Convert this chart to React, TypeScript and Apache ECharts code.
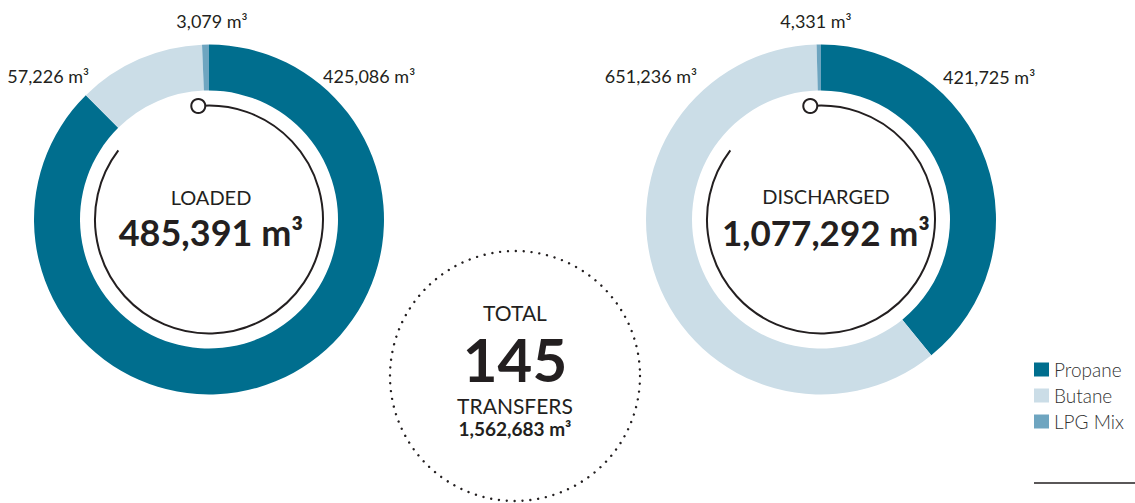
import React, { useEffect, useRef } from "react";
import * as echarts from "echarts";

// ---- data ----
const categories = ["Propane", "Butane", "LPG Mix"];
const loadedVolumes = [425086, 57226, 3079];
const dischargedVolumes = [421725, 651236, 4331];
const totalTransfers = 145;
const unit = "m³";

// ---- styles / layout ----
const COLORS = ["#006e8e", "#cbdde7", "#6ea5c0"];
const INK = "#231f20";
const FONT = 'Lato, "Noto Sans", sans-serif';
const LEFT_C = [209, 219.5];
const RIGHT_C = [821, 219.5];
const RING = [129, 175];

const fmt = (v: number) => v.toLocaleString("en-US");
const sum = (a: number[]) => a.reduce((s, v) => s + v, 0);

function txt(text: string, x: number, y: number, size: number, weight: any, align: string, color = INK): any {
  return {
    type: "text",
    z: 50,
    style: {
      text,
      x,
      y,
      fill: color,
      fontSize: size,
      fontWeight: weight,
      fontFamily: FONT,
      align,
      verticalAlign: "middle",
      textAlign: align,
      textVerticalAlign: "middle",
    },
  };
}

function decoArc(c: number[]): any[] {
  const r = 114;
  const a0 = -95.4 * Math.PI / 180;
  const a1 = 217.3 * Math.PI / 180;
  return [
    {
      type: "arc",
      z: 40,
      shape: { cx: c[0], cy: c[1], r, startAngle: a0, endAngle: a1, clockwise: true },
      style: { stroke: INK, lineWidth: 2, fill: "none" },
    },
    {
      type: "circle",
      z: 45,
      shape: { cx: c[0] + r * Math.cos(a0), cy: c[1] + r * Math.sin(a0), r: 7 },
      style: { fill: "#ffffff", stroke: INK, lineWidth: 2 },
    },
  ];
}

export default function App() {
  const ref = useRef<HTMLDivElement>(null);
  useEffect(() => {
    if (!ref.current) return;
    const chart = echarts.init(ref.current, null, { renderer: "svg" });
    const loadedTotal = sum(loadedVolumes);
    const dischargedTotal = sum(dischargedVolumes);
    const grandTotal = loadedTotal + dischargedTotal;

    const pie = (name: string, center: number[], values: number[]) => ({
      type: "pie",
      name,
      center,
      radius: RING,
      startAngle: 90,
      clockwise: true,
      silent: true,
      label: { show: false },
      labelLine: { show: false },
      emphasis: { disabled: true },
      itemStyle: { borderWidth: 0 },
      data: categories.map((c, i) => ({ name: c, value: values[i], itemStyle: { color: COLORS[i] } })),
    });

    chart.setOption({
      animation: false,
      color: COLORS,
      legend: {
        data: categories,
        orient: "vertical",
        left: 1034,
        top: 360,
        padding: 0,
        icon: "rect",
        itemWidth: 15,
        itemHeight: 14,
        itemGap: 7,
        selectedMode: false,
        textStyle: { fontFamily: FONT, fontSize: 19, fontWeight: 300, color: "#333333" },
      },
      series: [pie("Loaded", LEFT_C, loadedVolumes), pie("Discharged", RIGHT_C, dischargedVolumes)],
      graphic: [
        ...decoArc(LEFT_C),
        ...decoArc(RIGHT_C),
        // ring labels, loaded
        txt(`${fmt(loadedVolumes[2])} ${unit}`, 212, 21, 18, 400, "center"),
        txt(`${fmt(loadedVolumes[1])} ${unit}`, 89, 76, 18, 400, "right"),
        txt(`${fmt(loadedVolumes[0])} ${unit}`, 323, 76, 18, 400, "left"),
        // ring labels, discharged
        txt(`${fmt(dischargedVolumes[2])} ${unit}`, 816, 21, 18, 400, "center"),
        txt(`${fmt(dischargedVolumes[1])} ${unit}`, 697, 76, 18, 400, "right"),
        txt(`${fmt(dischargedVolumes[0])} ${unit}`, 943, 77, 18, 400, "left"),
        // centre texts
        txt("LOADED", 211, 197, 20, 400, "center"),
        txt(`${fmt(loadedTotal)} ${unit}`, 211, 232, 36, 700, "center"),
        txt("DISCHARGED", 826, 196, 20, 400, "center"),
        txt(`${fmt(dischargedTotal)} ${unit}`, 826, 232, 35, 700, "center"),
        // total circle
        {
          type: "circle",
          z: 30,
          shape: { cx: 515, cy: 376, r: 125 },
          style: { fill: "none", stroke: INK, lineWidth: 2.4, lineDash: [0.01, 7.85], lineCap: "round" },
        },
        txt("TOTAL", 515, 312, 21, 400, "center"),
        txt(String(totalTransfers), 515, 359, 60, 700, "center"),
        txt("TRANSFERS", 515, 405, 21, 400, "center"),
        txt(`${fmt(grandTotal)} ${unit}`, 515, 428, 19, 700, "center"),
        // rule under legend
        {
          type: "line",
          z: 30,
          shape: { x1: 1034, y1: 483, x2: 1135, y2: 483 },
          style: { stroke: INK, lineWidth: 1.5 },
        },
      ],
    });
    return () => chart.dispose();
  }, []);
  return (
    <div
      ref={ref}
      style={{ position: "absolute", left: 0, top: 0, width: 1135, height: 503, background: "#ffffff" }}
    />
  );
}
